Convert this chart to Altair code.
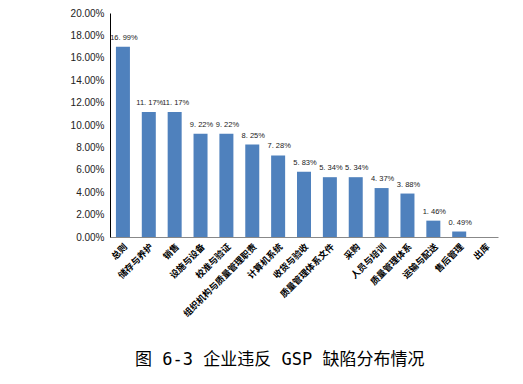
import altair as alt
import pandas as pd

categories = ["总则", "储存与养护", "销售", "设施与设备", "校准与验证", "组织机构与质量管理职责",
              "计算机系统", "收货与验收", "质量管理体系文件", "采购", "人员与培训", "质量管理体系",
              "运输与配送", "售后管理", "出库"]
values = [16.99, 11.17, 11.17, 9.22, 9.22, 8.25, 7.28, 5.83, 5.34, 5.34, 4.37, 3.88, 1.46, 0.49, 0.0]
y_ticks = [0, 0.02, 0.04, 0.06, 0.08, 0.10, 0.12, 0.14, 0.16, 0.18, 0.20]

df = pd.DataFrame({
    "cat": categories,
    "val": [v / 100 for v in values],
    "label": [f"{v:.2f}".replace(".", ". ") + "%" if v > 0 else "" for v in values],
})

x = alt.X("cat:N", sort=categories, title=None,
          scale=alt.Scale(paddingInner=0.46, paddingOuter=0.23),
          axis=alt.Axis(labelAngle=-45, labelFont="Noto Sans CJK SC", labelFontWeight="bold",
                        labelFontSize=9, labelColor="#000000", labelPadding=5,
                        ticks=False, domainColor="#888888", labelLimit=200))
y = alt.Y("val:Q", title=None,
          scale=alt.Scale(domain=[0, 0.2], nice=False),
          axis=alt.Axis(values=y_ticks, format=".2%", grid=False, ticks=False,
                        labelOverlap=False, domainColor="#000000", labelFont="Liberation Sans",
                        labelFontSize=10, labelColor="#222222", labelPadding=6))

bars = alt.Chart(df).mark_bar(color="#4F81BD", size=14).encode(x=x, y=y)
text = alt.Chart(df).mark_text(dy=-9, dx=1, fontSize=7.5, font="Liberation Sans", color="#222222").encode(
    x=x, y=y, text="label:N")

chart = (bars + text).properties(
    width=388, height=224,
    autosize=alt.AutoSizeParams(type="none"),
    padding={"left": 102, "top": 5, "right": 10, "bottom": 139},
    title=alt.TitleParams("图 6-3 企业违反 GSP 缺陷分布情况", orient="bottom", anchor="start",
                          font="DejaVu Sans Mono, Noto Sans CJK SC", fontSize=17, fontWeight="normal",
                          color="#000000", offset=34, dx=65),
).configure_view(stroke=None)

chart.save("out.html", embed_options={"renderer": "svg", "actions": False})
